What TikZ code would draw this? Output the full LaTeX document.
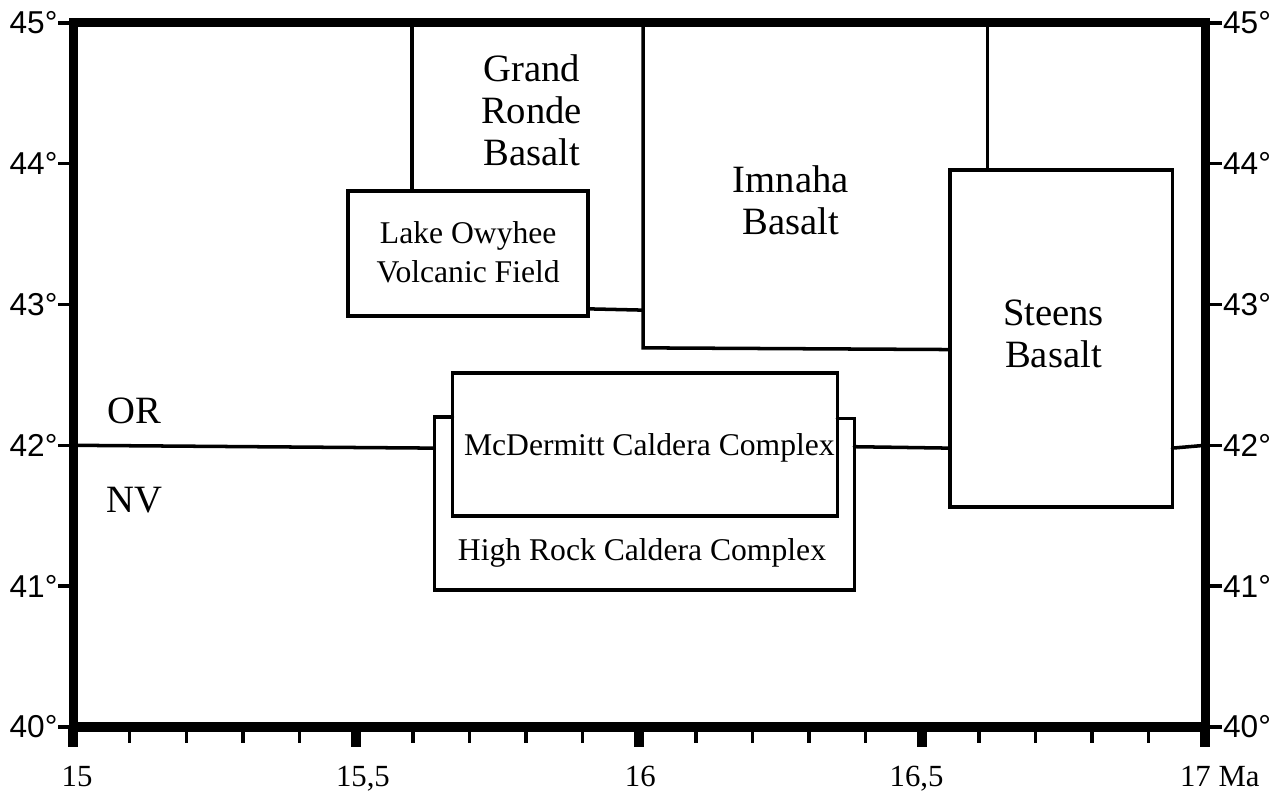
\documentclass[tikz,border=0pt]{standalone}
\usepackage{fontspec}
\setmainfont{Liberation Serif}
\newfontfamily\latfont{Liberation Sans}

\begin{document}
\begin{tikzpicture}[
    x=11.32cm, y=2.816cm,
    frame/.style={line width=5.2pt, line cap=round},
    unit/.style={line width=2pt, line cap=round, line join=miter},
    minortick/.style={line width=2pt},
    majortick/.style={line width=5.4pt},
    big/.style={font=\fontsize{22}{24}\selectfont, align=center, inner sep=0pt},
    small/.style={font=\fontsize{18}{22}\selectfont, align=center, inner sep=0pt},
    latlab/.style={font=\latfont\fontsize{18}{18}\selectfont, inner sep=0pt},
    agelab/.style={font=\fontsize{17.5}{18}\selectfont, inner sep=0pt, anchor=base}]
  \useasboundingbox (14.871,39.51) rectangle (17.127,45.163);

  % frame and axes
  \draw[frame] (15,40) rectangle (17,45);
  \foreach \i in {1,...,19}
    \draw[minortick] ({15+\i/10},40) -- ++(0,-0.114);
  \foreach \t in {15,15.5,16,16.5,17}
    \draw[majortick] (\t,40) -- ++(0,-0.142);
  \foreach \l in {40,...,45} {
    \draw[minortick] (15,\l) -- ++(-0.0265,0);
    \draw[minortick] (17,\l) -- ++(0.030,0);
    \node[latlab, anchor=east] (latL\l) at ({15-0.027},\l) {\l°};
    \node[latlab, anchor=west] (latR\l) at ({17+0.031},\l) {\l°};
  }
  \node[agelab] (a15) at (15.007,39.576) {15};
  \node[agelab] (a155) at (15.512,39.576) {15,5};
  \node[agelab] (a16) at (16.002,39.576) {16};
  \node[agelab] (a165) at (16.49,39.576) {16,5};
  \node[agelab, anchor=base west] (a17) at (16.955,39.576) {17 Ma};

  % OR / NV border
  \draw[unit] (15,42) -- (15.638,41.98);
  \draw[unit] (16.380,41.99) -- (16.549,41.98);
  \draw[unit] (16.942,41.98) -- (17,42.0);
  \node[big] (or) at (15.108,42.244) {OR};
  \node[big] (nv) at (15.108,41.61) {NV};

  % Grand Ronde / Imnaha / Lake Owyhee
  \draw[unit] (15.599,45) -- (15.599,43.807);
  \draw[unit] (15.486,42.919) rectangle (15.910,43.807);
  \draw[unit] (15.910,42.969) -- (16.007,42.96);
  \draw[unit] (16.007,45) -- (16.007,42.692) -- (16.549,42.68);
  \node[big] (ronde) at (15.81,44.38) {Grand\\Ronde\\Basalt};
  \node[big] (imnaha) at (16.268,43.74) {Imnaha\\Basalt};
  \node[small] (owyhee) at (15.698,43.37) {Lake Owyhee\\Volcanic Field};

  % Steens
  \draw[unit] (16.615,45) -- (16.615,43.956);
  \draw[unit] (16.549,41.5625) rectangle (16.942,43.956);
  \node[big] (steens) at (16.732,42.79) {Steens\\Basalt};

  % calderas
  \draw[unit] (15.670,42.202) -- (15.638,42.202) -- (15.638,40.973)
    -- (16.380,40.973) -- (16.380,42.19) -- (16.350,42.19);
  \draw[unit] (15.670,41.499) rectangle (16.350,42.514);
  \node[small] (mcd) at (16.018,41.98) {McDermitt Caldera Complex};
  \node[small] (hrock) at (16.005,41.236) {High Rock Caldera Complex};
\end{tikzpicture}
\end{document}
